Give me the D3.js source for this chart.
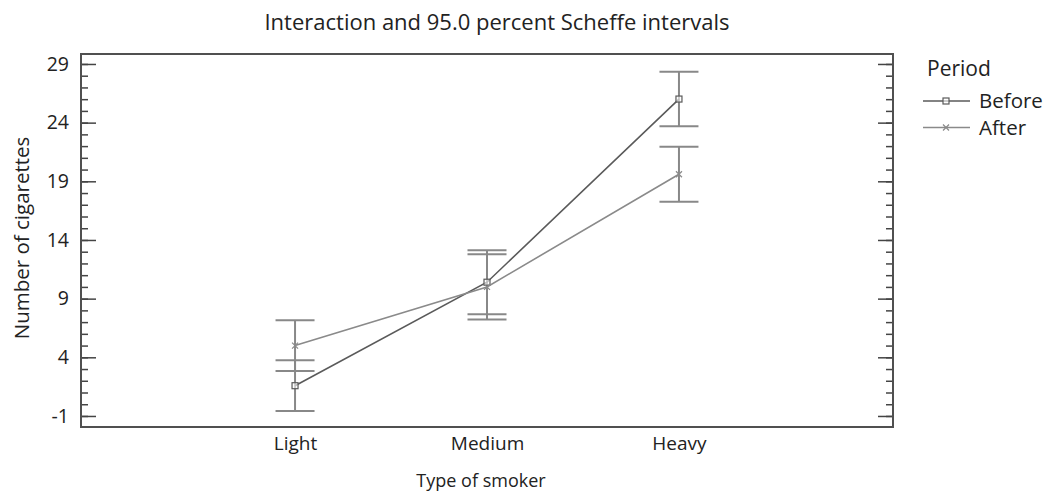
<!DOCTYPE html>
<html><head><meta charset="utf-8">
<script src="https://cdn.jsdelivr.net/npm/d3@7"></script>
<style>body{margin:0;background:#fff}svg{font-family:"Open Sans",sans-serif}</style>
</head><body><svg id="c" width="1045" height="492"></svg>
<script>
const categories = ["Light","Medium","Heavy"];
const periods = ["Before","After"];
const beforeMean = [1.58, 10.4, 26.01];
const beforeLow  = [-0.57, 7.67, 23.69];
const beforeHigh = [3.75, 13.13, 28.34];
const afterMean  = [5.0, 10.0, 19.6];
const afterLow   = [2.84, 7.22, 17.25];
const afterHigh  = [7.16, 12.79, 21.95];
const yTicks = [-1, 4, 9, 14, 19, 24, 29];

const svg = d3.select("#c");
const L=81, R=893, T=54, B=427;
const x = d3.scaleLinear().domain([-0.115, 4.115]).range([L,R]);
const y = d3.scaleLinear().domain([-1.94, 29.85]).range([B,T]);
const col = {Before:"#5a5a5a", After:"#8a8a8a"};
const txt = "#222";

const minor = d3.range(-1, 30, 1);
function ticks(pos, gen, vals, size){
  svg.append("g").attr("transform",`translate(${pos},0)`)
   .call(gen(y).tickValues(vals).tickSize(size).tickFormat(""))
   .call(a=>a.select(".domain").remove())
   .selectAll("line").attr("stroke","#444").attr("stroke-width",1.5);
}
ticks(L, d3.axisRight, minor, 7);
ticks(L, d3.axisRight, yTicks, 15);
ticks(R, d3.axisLeft, minor, 7);
ticks(R, d3.axisLeft, yTicks, 15);

// y labels
const yl = svg.append("g").attr("transform",`translate(${L},0)`)
 .call(d3.axisLeft(y).tickValues(yTicks).tickSize(0).tickPadding(12).tickFormat(d=>String(d)));
yl.select(".domain").remove();
yl.selectAll("text").attr("font-size",19.5).attr("fill",txt).attr("font-family","'Open Sans',sans-serif");

// x labels
const xl = svg.append("g").attr("transform",`translate(0,${B})`)
 .call(d3.axisBottom(x).tickValues([1,2,3]).tickSize(0).tickFormat((d,i)=>categories[i]));
xl.select(".domain").remove();
xl.selectAll("text").attr("y",23).attr("dy",0).attr("font-size",19).attr("fill",txt).attr("font-family","'Open Sans',sans-serif");

// frame
svg.append("rect").attr("x",L).attr("y",T).attr("width",R-L).attr("height",B-T)
 .attr("fill","none").attr("stroke","#505050").attr("stroke-width",2);

const series = [
 {name:"Before", mean:beforeMean, lo:beforeLow, hi:beforeHigh},
 {name:"After", mean:afterMean, lo:afterLow, hi:afterHigh}
];
const cap = 19.5;
series.forEach(s=>{
  const eb = svg.append("g").attr("stroke","#888").attr("stroke-width",2);
  s.mean.forEach((m,i)=>{
    const cx = x(i+1);
    eb.append("line").attr("x1",cx).attr("x2",cx).attr("y1",y(s.lo[i])).attr("y2",y(s.hi[i]));
    eb.append("line").attr("x1",cx-cap).attr("x2",cx+cap).attr("y1",y(s.lo[i])).attr("y2",y(s.lo[i]));
    eb.append("line").attr("x1",cx-cap).attr("x2",cx+cap).attr("y1",y(s.hi[i])).attr("y2",y(s.hi[i]));
  });
});
series.forEach(s=>{
  const line = d3.line().x((d,i)=>x(i+1)).y(d=>y(d));
  svg.append("path").attr("d",line(s.mean)).attr("fill","none").attr("stroke",col[s.name]).attr("stroke-width",1.6);
  s.mean.forEach((m,i)=>marker(svg, s.name, x(i+1), y(m)));
});
function marker(p, name, cx, cy){
  if(name==="Before"){
    p.append("rect").attr("x",cx-3).attr("y",cy-3).attr("width",6).attr("height",6)
     .attr("fill","#fff").attr("fill-opacity",0.6).attr("stroke",col.Before).attr("stroke-width",1.2);
  } else {
    p.append("path").attr("d",`M${cx-3},${cy-3}L${cx+3},${cy+3}M${cx-3},${cy+3}L${cx+3},${cy-3}`)
     .attr("stroke",col.After).attr("stroke-width",1.2);
  }
}

// titles
svg.append("text").attr("x",497).attr("y",30).attr("text-anchor","middle").attr("font-size",22).attr("fill",txt).text("Interaction and 95.0 percent Scheffe intervals");
svg.append("text").attr("x",481).attr("y",487).attr("text-anchor","middle").attr("font-size",18).attr("fill",txt).text("Type of smoker");
svg.append("text").attr("transform","translate(29,238) rotate(-90)").attr("text-anchor","middle").attr("font-size",20.5).attr("fill",txt).text("Number of cigarettes");

// legend
svg.append("text").attr("x",927).attr("y",76).attr("font-size",21).attr("fill",txt).text("Period");
periods.forEach((p,i)=>{
  const ly = 101 + i*26.5;
  svg.append("line").attr("x1",923).attr("x2",970).attr("y1",ly).attr("y2",ly).attr("stroke",col[p]).attr("stroke-width",1.4);
  marker(svg, p, 946, ly);
  svg.append("text").attr("x",979).attr("y",ly+7).attr("font-size",20.5).attr("fill",txt).text(p);
});
</script></body></html>
